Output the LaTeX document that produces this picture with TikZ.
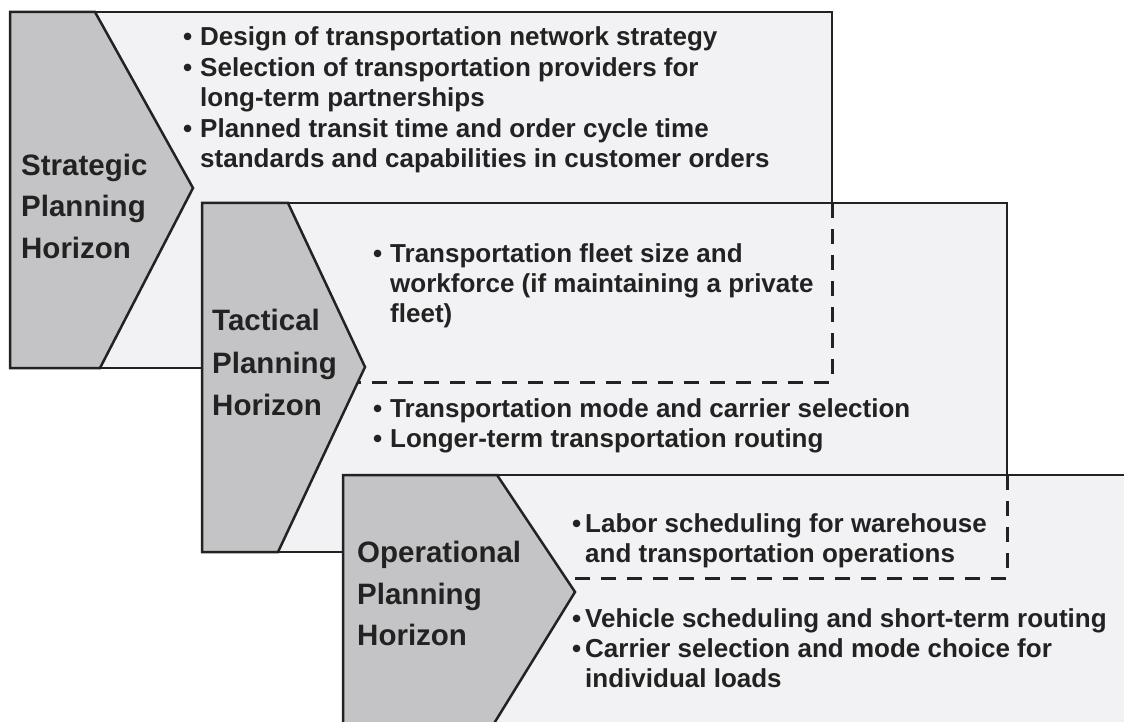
\documentclass[tikz,border=0pt]{standalone}
\usepackage{fontspec}
\setmainfont{Liberation Sans}
\definecolor{boxfill}{HTML}{F2F2F4}
\definecolor{chevfill}{HTML}{C4C4C6}
\definecolor{ink}{HTML}{222222}
\tikzset{
  panel/.style={draw=ink, fill=boxfill, line width=2.5pt},
  chevron/.style={draw=ink, fill=chevfill, line width=2.5pt, line join=miter},
  divider/.style={draw=ink, line width=3pt, dash pattern=on 15pt off 11pt},
  body/.style={anchor=base west, inner sep=0pt, text=ink, font=\bfseries\fontsize{26}{30}\selectfont},
  bul/.style={body},
  hlabel/.style={anchor=base west, inner sep=0pt, text=ink, font=\bfseries\fontsize{29.5}{36}\selectfont},
}
\begin{document}
\begin{tikzpicture}[x=1pt,y=-1pt]
\useasboundingbox (0,0) rectangle (1124,722);
\clip (0,0) rectangle (1124,722);
\fill[white] (0,0) rectangle (1124,722);

% strategic
\draw[panel] (10,12) rectangle (832,368);
\draw[chevron] (10,12) -- (95,12) -- (193,188) -- (100,368) -- (10,368) -- cycle;
% tactical
\draw[panel] (202,203) rectangle (1007,552);
\draw[divider] (832,203) -- (832,382) -- (340,382);
\draw[chevron] (202,203) -- (288,203) -- (365,367) -- (278,552) -- (202,552) -- cycle;
% operational
\draw[panel] (343,475) rectangle (1150,750);
\draw[divider] (1007,475) -- (1007,578) -- (550,578);
\draw[chevron] (343,475) -- (497,475) -- (575,592) -- (490,730) -- (343,730) -- cycle;

% labels
\node[hlabel] (sl1) at (21,176) {Strategic};
\node[hlabel] (sl2) at (21,217) {Planning};
\node[hlabel] (sl3) at (21,258) {Horizon};
\node[hlabel] (tl1) at (212,330) {Tactical};
\node[hlabel] (tl2) at (212,373) {Planning};
\node[hlabel] (tl3) at (212,415) {Horizon};
\node[hlabel] (ol1) at (357,562) {Operational};
\node[hlabel] (ol2) at (357,604) {Planning};
\node[hlabel] (ol3) at (357,645) {Horizon};

% strategic text
\node[bul] (sb1) at (183,46) {•};
\node[body] (st1) at (200,46) {Design of transportation network strategy};
\node[bul] (sb2) at (183,77) {•};
\node[body] (st2) at (200,77) {Selection of transportation providers for};
\node[body] (st3) at (200,107) {long-term partnerships};
\node[bul] (sb3) at (183,138) {•};
\node[body] (st4) at (200,138) {Planned transit time and order cycle time};
\node[body] (st5) at (200,168) {standards and capabilities in customer orders};

% tactical text
\node[bul] (tb1) at (373,262) {•};
\node[body] (tt1) at (390,262) {Transportation fleet size and};
\node[body] (tt2) at (390,292) {workforce (if maintaining a private};
\node[body] (tt3) at (390,322) {fleet)};
\node[bul] (tb2) at (373,417) {•};
\node[body] (tt4) at (390,417) {Transportation mode and carrier selection};
\node[bul] (tb3) at (373,447) {•};
\node[body] (tt5) at (390,447) {Longer-term transportation routing};

% operational text
\node[bul] (ob1) at (572,532) {•};
\node[body] (ot1) at (585,532) {Labor scheduling for warehouse};
\node[body] (ot2) at (585,562) {and transportation operations};
\node[bul] (ob2) at (572,627) {•};
\node[body] (ot3) at (585,627) {Vehicle scheduling and short-term routing};
\node[bul] (ob3) at (572,657) {•};
\node[body] (ot4) at (585,657) {Carrier selection and mode choice for};
\node[body] (ot5) at (585,687) {individual loads};
\end{tikzpicture}
\end{document}
